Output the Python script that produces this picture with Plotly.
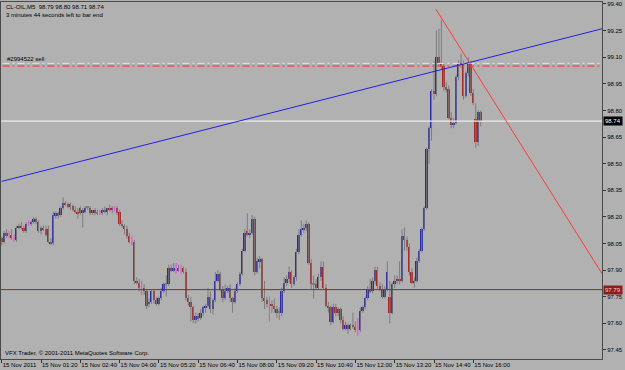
import plotly.graph_objects as go

# ---- data (M5 bars, 15 Nov 2011 00:00 .. 16:15) ----
open_ = [
    98.08, 98.06, 98.11, 98.09, 98.10, 98.08, 98.07, 98.14, 98.15, 98.14,
    98.12, 98.16, 98.16, 98.17, 98.19, 98.17, 98.12, 98.14, 98.13, 98.13,
    98.06, 98.05, 98.21, 98.22, 98.21, 98.25, 98.28, 98.27, 98.27, 98.26,
    98.24, 98.23, 98.25, 98.22, 98.23, 98.25, 98.25, 98.22, 98.24, 98.22,
    98.22, 98.22, 98.24, 98.23, 98.25, 98.24, 98.25, 98.25, 98.23, 98.16,
    98.15, 98.13, 98.09, 98.06, 98.06, 97.84, 97.83, 97.80, 97.80, 97.78,
    97.71, 97.72, 97.78, 97.73, 97.71, 97.74, 97.78, 97.82, 97.82, 97.91,
    97.90, 97.91, 97.91, 97.90, 97.91, 97.89, 97.74, 97.72, 97.69, 97.62,
    97.64, 97.63, 97.66, 97.69, 97.70, 97.75, 97.68, 97.73, 97.84, 97.88,
    97.79, 97.74, 97.78, 97.80, 97.74, 97.72, 97.78, 97.82, 97.88, 98.01,
    98.12, 98.10, 98.11, 98.19, 97.89, 97.95, 97.96, 97.74, 97.73, 97.71,
    97.71, 97.70, 97.68, 97.66, 97.66, 97.78, 97.83, 97.85, 97.89, 97.82,
    97.86, 98.00, 98.10, 98.13, 98.14, 98.16, 97.94, 97.82, 97.82, 97.80,
    97.86, 97.92, 97.80, 97.70, 97.69, 97.61, 97.69, 97.66, 97.68, 97.62,
    97.57, 97.59, 97.57, 97.59, 97.58, 97.56, 97.56, 97.67, 97.69, 97.74,
    97.79, 97.78, 97.84, 97.90, 97.81, 97.79, 97.75, 97.79, 97.75, 97.66,
    97.82, 97.84, 97.85, 97.84, 98.09, 98.07, 98.03, 97.89, 97.83, 97.84,
    97.95, 98.01, 98.13, 98.25, 98.58, 98.70, 98.91, 98.89, 99.10, 99.07,
    99.05, 98.93, 98.92, 98.76, 98.72, 98.73, 98.99, 99.07, 99.06, 98.88,
    99.01, 99.07, 98.90, 98.75, 98.62, 98.79,
]
high = [
    98.09, 98.12, 98.13, 98.12, 98.13, 98.10, 98.15, 98.16, 98.17, 98.15,
    98.17, 98.18, 98.18, 98.20, 98.20, 98.18, 98.15, 98.15, 98.15, 98.15,
    98.08, 98.23, 98.23, 98.23, 98.26, 98.31, 98.29, 98.28, 98.28, 98.27,
    98.26, 98.25, 98.26, 98.25, 98.26, 98.26, 98.26, 98.24, 98.25, 98.24,
    98.24, 98.25, 98.26, 98.25, 98.27, 98.26, 98.26, 98.26, 98.24, 98.18,
    98.16, 98.15, 98.11, 98.09, 98.07, 97.86, 97.85, 97.84, 97.82, 97.79,
    97.74, 97.79, 97.79, 97.75, 97.75, 97.80, 97.83, 97.87, 97.93, 97.93,
    97.94, 97.94, 97.93, 97.93, 97.92, 97.91, 97.76, 97.75, 97.70, 97.66,
    97.66, 97.68, 97.70, 97.71, 97.80, 97.78, 97.74, 97.89, 97.90, 97.89,
    97.81, 97.82, 97.81, 97.82, 97.75, 97.80, 97.83, 97.89, 98.02, 98.13,
    98.22, 98.13, 98.21, 98.20, 97.97, 97.98, 97.97, 97.84, 97.75, 97.75,
    97.73, 97.74, 97.70, 97.69, 97.80, 97.86, 97.87, 97.92, 97.90, 97.87,
    98.02, 98.13, 98.18, 98.16, 98.18, 98.17, 97.96, 97.87, 97.85, 97.88,
    97.95, 97.95, 97.82, 97.72, 97.70, 97.71, 97.71, 97.69, 97.69, 97.64,
    97.61, 97.60, 97.60, 97.66, 97.61, 97.63, 97.69, 97.70, 97.75, 97.81,
    97.85, 97.86, 97.92, 97.92, 97.83, 97.82, 97.81, 97.95, 97.84, 97.83,
    97.87, 97.87, 97.95, 98.13, 98.14, 98.09, 98.05, 97.91, 97.86, 97.97,
    98.02, 98.14, 98.26, 98.59, 98.71, 98.92, 99.08, 99.25, 99.26, 99.31,
    99.07, 98.96, 98.94, 98.79, 98.76, 99.00, 99.08, 99.12, 99.08, 99.02,
    99.10, 99.08, 98.92, 98.84, 98.80, 98.80,
]
low = [
    98.04, 98.05, 98.08, 98.08, 98.07, 98.06, 98.06, 98.13, 98.13, 98.11,
    98.11, 98.15, 98.15, 98.16, 98.16, 98.11, 98.10, 98.12, 98.09, 98.05,
    98.04, 98.04, 98.19, 98.19, 98.20, 98.24, 98.26, 98.25, 98.24, 98.23,
    98.22, 98.19, 98.21, 98.14, 98.22, 98.24, 98.21, 98.21, 98.21, 98.21,
    98.21, 98.21, 98.22, 98.21, 98.23, 98.22, 98.23, 98.21, 98.15, 98.14,
    98.10, 98.08, 98.05, 98.04, 97.82, 97.82, 97.78, 97.76, 97.76, 97.68,
    97.69, 97.71, 97.71, 97.70, 97.70, 97.73, 97.77, 97.75, 97.81, 97.89,
    97.89, 97.88, 97.89, 97.88, 97.88, 97.73, 97.70, 97.61, 97.60, 97.60,
    97.61, 97.62, 97.64, 97.66, 97.69, 97.66, 97.65, 97.72, 97.83, 97.78,
    97.72, 97.73, 97.77, 97.72, 97.66, 97.71, 97.77, 97.81, 97.87, 98.00,
    98.09, 98.08, 98.10, 97.87, 97.88, 97.91, 97.72, 97.68, 97.69, 97.61,
    97.66, 97.66, 97.63, 97.62, 97.64, 97.77, 97.81, 97.83, 97.80, 97.81,
    97.84, 97.99, 98.09, 98.11, 98.12, 97.93, 97.79, 97.74, 97.79, 97.79,
    97.84, 97.79, 97.69, 97.66, 97.59, 97.60, 97.64, 97.64, 97.60, 97.56,
    97.56, 97.54, 97.56, 97.57, 97.55, 97.53, 97.55, 97.66, 97.68, 97.73,
    97.77, 97.77, 97.82, 97.79, 97.78, 97.74, 97.74, 97.78, 97.60, 97.65,
    97.80, 97.82, 97.82, 97.83, 98.01, 98.01, 97.87, 97.82, 97.80, 97.83,
    97.94, 98.00, 98.12, 98.24, 98.50, 98.63, 98.86, 98.88, 99.05, 99.03,
    98.91, 98.90, 98.75, 98.70, 98.70, 98.72, 98.97, 99.04, 98.86, 98.87,
    98.99, 98.88, 98.83, 98.59, 98.60, 98.71,
]
close = [
    98.06, 98.11, 98.09, 98.09, 98.08, 98.08, 98.14, 98.15, 98.14, 98.12,
    98.16, 98.16, 98.17, 98.19, 98.17, 98.12, 98.14, 98.13, 98.10, 98.06,
    98.05, 98.21, 98.22, 98.21, 98.25, 98.28, 98.27, 98.26, 98.26, 98.24,
    98.23, 98.22, 98.22, 98.24, 98.25, 98.25, 98.22, 98.24, 98.22, 98.22,
    98.22, 98.24, 98.23, 98.25, 98.24, 98.25, 98.25, 98.22, 98.16, 98.15,
    98.13, 98.09, 98.06, 98.06, 97.84, 97.83, 97.80, 97.80, 97.78, 97.70,
    97.72, 97.78, 97.73, 97.71, 97.74, 97.78, 97.82, 97.82, 97.91, 97.90,
    97.91, 97.91, 97.90, 97.90, 97.89, 97.74, 97.72, 97.69, 97.62, 97.64,
    97.63, 97.66, 97.69, 97.70, 97.75, 97.68, 97.73, 97.84, 97.88, 97.79,
    97.74, 97.78, 97.80, 97.74, 97.72, 97.78, 97.82, 97.88, 98.01, 98.11,
    98.10, 98.11, 98.19, 97.89, 97.95, 97.96, 97.74, 97.73, 97.71, 97.71,
    97.70, 97.68, 97.66, 97.66, 97.78, 97.83, 97.85, 97.89, 97.82, 97.86,
    98.00, 98.10, 98.13, 98.14, 98.16, 97.94, 97.82, 97.82, 97.80, 97.86,
    97.92, 97.80, 97.70, 97.69, 97.61, 97.69, 97.66, 97.68, 97.62, 97.57,
    97.59, 97.57, 97.59, 97.58, 97.56, 97.56, 97.67, 97.69, 97.74, 97.79,
    97.78, 97.84, 97.90, 97.81, 97.79, 97.75, 97.79, 97.89, 97.66, 97.82,
    97.84, 97.85, 97.84, 98.09, 98.07, 98.03, 97.89, 97.83, 97.84, 97.95,
    98.01, 98.13, 98.25, 98.58, 98.70, 98.91, 98.89, 99.10, 99.07, 99.05,
    98.93, 98.92, 98.76, 98.72, 98.73, 98.99, 99.07, 99.06, 98.88, 99.01,
    99.07, 98.90, 98.84, 98.62, 98.79, 98.74,
]
pink_bars = [3, 5, 11, 40, 46, 53, 57, 71, 73, 109, 145]

tick_bars = [0, 16, 32, 48, 64, 80, 96, 112, 128, 144, 160, 176, 192]
tick_labels = ["15 Nov 2011", "15 Nov 01:20", "15 Nov 02:40", "15 Nov 04:00",
               "15 Nov 05:20", "15 Nov 06:40", "15 Nov 08:00", "15 Nov 09:20",
               "15 Nov 10:40", "15 Nov 12:00", "15 Nov 13:20", "15 Nov 14:40",
               "15 Nov 16:00"]
price_ticks = [99.40, 99.25, 99.10, 98.95, 98.80, 98.65, 98.50, 98.35,
               98.20, 98.05, 97.90, 97.75, 97.60, 97.45]

bid_price = 98.74
level_price = 97.79
order_price = 99.05
order_shadow_price = 99.065
blue_trend_x = [0, 244.4]
blue_trend_y = [98.40, 99.26]
red_trend_x = [176.8, 244.4]
red_trend_y = [99.37, 97.88]

# ---- styles ----
BG = "#B1B1B1"
BULL = "#2A2AA8"
BEAR = "#A82626"
WICK = "#7C7C7C"
PINK = "#F03CF0"
FONT = "Liberation Sans"

n = len(close)
xs = list(range(n))

fig = go.Figure()

# wicks
wx, wy, px, py = [], [], [], []
for i in xs:
    if i in pink_bars:
        px += [i, i, None]
        py += [low[i], high[i], None]
    else:
        wx += [i, i, None]
        wy += [low[i], high[i], None]
fig.add_trace(go.Scatter(x=wx, y=wy, mode="lines", line=dict(color=WICK, width=1),
                         hoverinfo="skip"))
fig.add_trace(go.Scatter(x=px, y=py, mode="lines", line=dict(color=PINK, width=1),
                         hoverinfo="skip"))

# bodies
base, height, colors = [], [], []
for i in xs:
    o, c = open_[i], close[i]
    base.append(min(o, c))
    if i in pink_bars:
        height.append(0)
        colors.append(PINK)
    else:
        height.append(max(abs(c - o), 0.006))
        colors.append(BULL if c > o else (BEAR if c < o else WICK))
fig.add_trace(go.Bar(x=xs, y=height, base=base, width=0.75,
                     marker=dict(color=colors, line=dict(width=0)), hoverinfo="skip"))

# horizontal lines
xl = [-0.3, 244.4]
fig.add_trace(go.Scatter(x=xl, y=[level_price] * 2, mode="lines",
                         line=dict(color="#8E2A2A", width=1), hoverinfo="skip"))
fig.add_trace(go.Scatter(x=xl, y=[bid_price] * 2, mode="lines",
                         line=dict(color="#EDEDED", width=1.3), hoverinfo="skip"))
fig.add_trace(go.Scatter(x=[0.3, 243.6], y=[order_shadow_price] * 2, mode="lines",
                         line=dict(color="#E4E4E4", width=1, dash="7px,3px,2px,3px"),
                         hoverinfo="skip"))
fig.add_trace(go.Scatter(x=[0.3, 243.6], y=[order_price] * 2, mode="lines",
                         line=dict(color="#FF2A2A", width=1, dash="7px,3px,2px,3px"),
                         hoverinfo="skip"))

# trend lines
fig.add_trace(go.Scatter(x=blue_trend_x, y=blue_trend_y, mode="lines",
                         line=dict(color="#2020E6", width=1), hoverinfo="skip"))
fig.add_trace(go.Scatter(x=red_trend_x, y=red_trend_y, mode="lines",
                         line=dict(color="#FF3A3A", width=1), hoverinfo="skip"))

txt = dict(family=FONT, size=6, color="black")
annotations = [
    dict(x=0.005, y=0.986, xref="paper", yref="paper", xanchor="left", yanchor="middle",
         text="CL-OIL,M5  98.79 98.80 98.71 98.74", showarrow=False, font=txt),
    dict(x=0.005, y=0.963, xref="paper", yref="paper", xanchor="left", yanchor="middle",
         text="3 minutes 44 seconds left to bar end", showarrow=False, font=txt),
    dict(x=0.006, y=order_shadow_price, xref="paper", yref="y", xanchor="left",
         yanchor="bottom", yshift=-1, text="#2994522 sell", showarrow=False, font=txt),
    dict(x=0.004, y=0.017, xref="paper", yref="paper", xanchor="left", yanchor="middle",
         text="VFX Trader, © 2001-2011 MetaQuotes Software Corp.", showarrow=False,
         font=txt),
    dict(x=1, y=bid_price, xref="paper", yref="y", xanchor="left", yanchor="middle",
         xshift=1, text="98.74", showarrow=False, bgcolor="#000000", borderpad=1,
         font=dict(family=FONT, size=6, color="white")),
    dict(x=1, y=level_price, xref="paper", yref="y", xanchor="left", yanchor="middle",
         xshift=1, text="97.79", showarrow=False, bgcolor="#8E1C1C", borderpad=1,
         font=dict(family=FONT, size=6, color="#F0D0D0")),
]

fig.update_layout(
    width=625, height=370,
    margin=dict(l=1, r=23, t=2, b=11),
    paper_bgcolor=BG, plot_bgcolor=BG,
    showlegend=False, bargap=0,
    annotations=annotations,
    xaxis=dict(range=[-0.29, 244.4], tickmode="array", tickvals=tick_bars,
               ticktext=tick_labels, ticks="outside", ticklen=3, tickcolor="#303030",
               tickfont=dict(family=FONT, size=6, color="black"), tickangle=0,
               ticklabelposition="outside right", automargin=False,
               showline=True, linecolor="#4A4A4A", linewidth=1, mirror=True,
               showgrid=False, zeroline=False),
    yaxis=dict(range=[97.399, 99.411], side="right", tickmode="array",
               tickvals=price_ticks, ticktext=[f"{v:.2f}" for v in price_ticks],
               ticks="outside", ticklen=3, tickcolor="#303030", automargin=False,
               tickfont=dict(family=FONT, size=6, color="black"),
               showline=True, linecolor="#4A4A4A", linewidth=1, mirror=True,
               showgrid=False, zeroline=False),
)

fig.write_html("out.html")
